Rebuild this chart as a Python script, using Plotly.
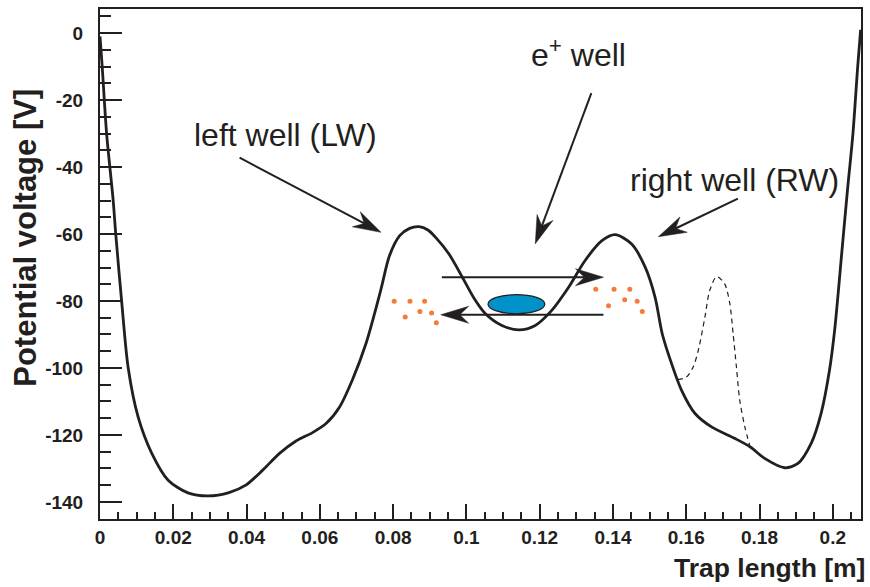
import math
import plotly.graph_objects as go

# Potential along the trap axis: position [m], voltage [V]
trap_x = [0.0, 0.0006, 0.0018, 0.0036, 0.0043, 0.0059, 0.0077, 0.0104, 0.0141, 0.0186,
          0.0240, 0.0295, 0.0352, 0.0399, 0.0444, 0.0490, 0.0535, 0.0580, 0.0617, 0.0653,
          0.0689, 0.0726, 0.0750, 0.0768, 0.0790, 0.0818, 0.0845, 0.0871, 0.0895, 0.0916,
          0.0952, 0.0989, 0.1020, 0.1052, 0.1097, 0.1143, 0.1188, 0.1233, 0.1279, 0.1324,
          0.1370, 0.1406, 0.1451, 0.1488, 0.1515, 0.1535, 0.1560, 0.1587, 0.1624, 0.1669,
          0.1732, 0.1775, 0.1814, 0.1869, 0.1905, 0.1941, 0.1968, 0.1991, 0.2005, 0.2025,
          0.2040, 0.2055, 0.2068, 0.2076]
trap_v = [-1.0, -10.0, -30.0, -50.0, -60.0, -80.0, -100.0, -114.6, -125.4, -133.5,
          -137.3, -138.2, -137.2, -134.9, -130.5, -125.5, -121.8, -119.3, -116.6, -111.8,
          -103.5, -92.7, -83.5, -76.0, -66.5, -60.5, -58.3, -57.8, -58.8, -61.0,
          -65.9, -72.9, -79.0, -83.8, -87.3, -88.6, -87.3, -82.8, -75.9, -67.9,
          -62.0, -60.2, -63.0, -69.9, -78.9, -90.0, -98.7, -106.6, -113.6, -117.6,
          -121.0, -123.6, -127.0, -129.8, -128.5, -122.5, -113.6, -100.7, -88.8, -65.0,
          -47.0, -30.0, -10.0, 1.0]

# Modified right-well profile (dashed)
alt_x = [0.1577, 0.1601, 0.1619, 0.1633, 0.1651, 0.1664, 0.1683, 0.1705, 0.1719, 0.1728,
         0.1737, 0.1746, 0.1760, 0.1773]
alt_v = [-103.5, -102.7, -99.7, -94.7, -84.8, -76.9, -72.7, -74.9, -80.8, -89.8,
         -99.7, -109.6, -117.6, -123.0]

# Particles spilling over the barriers
left_dots_x = [0.0803, 0.0846, 0.0886, 0.0833, 0.0873, 0.0905, 0.0918]
left_dots_v = [-80.1, -80.1, -80.1, -84.8, -83.1, -83.6, -86.5]
right_dots_x = [0.1353, 0.1403, 0.1446, 0.1388, 0.1432, 0.1466, 0.1480]
right_dots_v = [-76.5, -76.5, -76.5, -81.4, -79.6, -80.1, -83.1]

# Positron cloud extent (x0, x1, v0, v1)
cloud_x = [0.1059, 0.1214]
cloud_v = [-83.8, -78.1]

x_ticks = [0, 0.02, 0.04, 0.06, 0.08, 0.1, 0.12, 0.14, 0.16, 0.18, 0.2]
x_ticklabels = ["0", "0.02", "0.04", "0.06", "0.08", "0.1", "0.12", "0.14", "0.16", "0.18", "0.2"]
y_ticks = [0, -20, -40, -60, -80, -100, -120, -140]
y_ticklabels = ["0", "-20", "-40", "-60", "-80", "-100", "-120", "-140"]

# Arrows: (tail x, tail v, tip x, tip v)
arrows = [
    (0.0381, -37.2, 0.0767, -59.5),
    (0.1341, -17.9, 0.1188, -62.9),
    (0.1741, -49.4, 0.1524, -60.8),
    (0.0933, -72.9, 0.1374, -72.9),
    (0.1374, -84.1, 0.0930, -84.1),
]

INK = "#231f20"
W, H = 870, 587
ML, MR, MT, MB = 100, 7, 8, 68
X_RANGE = [0, 0.2077]
Y_RANGE = [-145.1, 7.2]

fig = go.Figure()
fig.add_trace(go.Scatter(x=trap_x, y=trap_v, mode="lines",
                         line=dict(color=INK, width=2.8, shape="spline", smoothing=0.8),
                         hoverinfo="skip"))
fig.add_trace(go.Scatter(x=alt_x, y=alt_v, mode="lines",
                         line=dict(color=INK, width=1.2, dash="5px,4px", shape="spline", smoothing=0.8),
                         hoverinfo="skip"))
fig.add_trace(go.Scatter(x=left_dots_x + right_dots_x, y=left_dots_v + right_dots_v, mode="markers",
                         marker=dict(color="#f47b3a", size=5), hoverinfo="skip"))

shapes = [dict(type="circle", xref="x", yref="y", x0=cloud_x[0], x1=cloud_x[1],
               y0=cloud_v[0], y1=cloud_v[1], fillcolor="#0092c8",
               line=dict(color=INK, width=1.2), layer="above")]

# pixel scale of the plotting area, used to shape arrowheads
plot_w = W - ML - MR
plot_h = H - MT - MB
kx = plot_w / (X_RANGE[1] - X_RANGE[0])
ky = plot_h / (Y_RANGE[1] - Y_RANGE[0])
HEAD_L, HEAD_W, NOTCH = 28, 17, 0.68

for tx, tv, hx, hv in arrows:
    dx = (hx - tx) * kx
    dy = (hv - tv) * ky
    n = math.hypot(dx, dy)
    ux, uy = dx / n, dy / n
    px, py = -uy, ux

    def pt(a, b):
        return hx + (a * ux + b * px) / kx, hv + (a * uy + b * py) / ky

    nx, nv = pt(-HEAD_L * NOTCH, 0)
    shapes.append(dict(type="line", xref="x", yref="y", x0=tx, y0=tv, x1=nx, y1=nv,
                       line=dict(color=INK, width=2)))
    b1 = pt(-HEAD_L, HEAD_W / 2)
    b2 = pt(-HEAD_L, -HEAD_W / 2)
    path = f"M{hx},{hv} L{b1[0]},{b1[1]} L{nx},{nv} L{b2[0]},{b2[1]} Z"
    shapes.append(dict(type="path", xref="x", yref="y", path=path,
                       fillcolor=INK, line=dict(color=INK, width=0.5)))

label_font = dict(family="Liberation Sans, Arial, sans-serif", size=32, color=INK)
annotations = [
    dict(x=0.025, y=-30.5, text="left well (LW)", xanchor="left", yanchor="middle"),
    dict(x=0.117, y=-6.0, text="e<sup>+</sup> well", xanchor="left", yanchor="middle"),
    dict(x=0.1442, y=-44.0, text="right well (RW)", xanchor="left", yanchor="middle"),
]
for a in annotations:
    a.update(xref="x", yref="y", showarrow=False, font=label_font)

xt_font = dict(family="Liberation Sans, Arial, sans-serif", size=26.5, color=INK, weight="bold")
yt_font = dict(family="Liberation Sans, Arial, sans-serif", size=31, color=INK, weight="bold")
annotations.append(dict(xref="paper", yref="paper", x=1.008, y=(519 - 568) / plot_h,
                        text="Trap length [m]", xanchor="right", yanchor="middle",
                        showarrow=False, font=xt_font))
annotations.append(dict(xref="paper", yref="paper", x=(25 - ML) / plot_w, y=(519 - 237) / plot_h,
                        text="Potential voltage [V]", textangle=-90, xanchor="center",
                        yanchor="middle", showarrow=False, font=yt_font))

tick_font = dict(family="Liberation Sans, Arial, sans-serif", size=19, color=INK, weight="bold")
fig.update_layout(
    width=W, height=H, margin=dict(l=ML, r=MR, t=MT, b=MB),
    paper_bgcolor="white", plot_bgcolor="white", showlegend=False,
    shapes=shapes, annotations=annotations,
    xaxis=dict(range=X_RANGE, tickvals=x_ticks, ticktext=x_ticklabels, ticks="inside",
               ticklen=15, tickwidth=2, tickcolor=INK, showline=True, linecolor=INK,
               linewidth=2, mirror=True, showgrid=False, zeroline=False, tickfont=tick_font,
               minor=dict(dtick=0.005, tick0=0, ticks="inside", ticklen=7, tickwidth=1.5,
                          tickcolor=INK, showgrid=False)),
    yaxis=dict(range=Y_RANGE, tickvals=y_ticks, ticktext=y_ticklabels, ticks="inside",
               ticklen=22, tickwidth=2, tickcolor=INK, showline=True, linecolor=INK,
               linewidth=2, mirror=True, showgrid=False, zeroline=False, tickfont=tick_font,
               ticklabelstandoff=11,
               minor=dict(dtick=5, tick0=0, ticks="inside", ticklen=11, tickwidth=1.5,
                          tickcolor=INK, showgrid=False)),
)

fig.write_html("out.html")
